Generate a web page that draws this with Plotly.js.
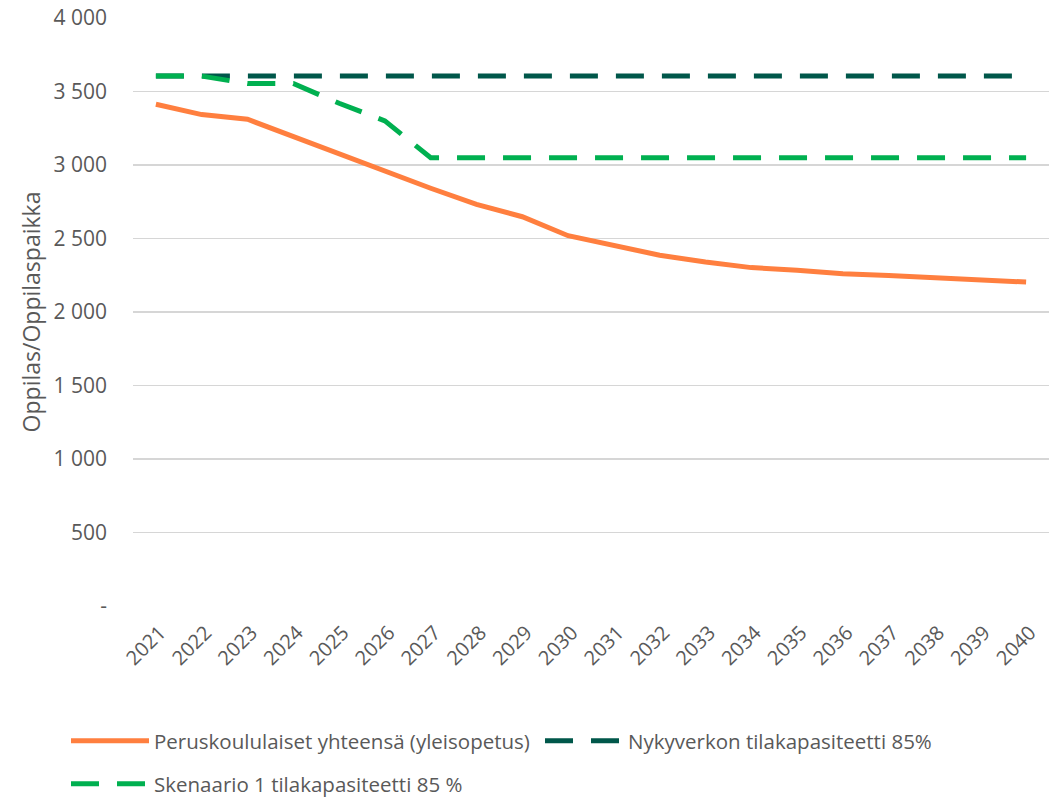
<!DOCTYPE html>
<html>
<head>
<meta charset="utf-8">
<script src="https://cdn.plot.ly/plotly-3.0.1.min.js"></script>
<style>html,body{margin:0;padding:0;background:#fff;} #chart{width:1049px;height:798px;}</style>
</head>
<body>
<div id="chart"></div>
<script>
const years = ["2021","2022","2023","2024","2025","2026","2027","2028","2029","2030","2031","2032","2033","2034","2035","2036","2037","2038","2039","2040"];
const peruskoululaiset = [3413,3343,3311,3195,3070,2955,2842,2732,2648,2519,2454,2386,2340,2302,2284,2261,2248,2234,2220,2204];
const nykyverkko = [3605,3605,3605,3605,3605,3605,3605,3605,3605,3605,3605,3605,3605,3605,3605,3605,3605,3605,3605,3605];
const skenaario1 = [3605,3605,3554,3554,3420,3300,3050,3050,3050,3050,3050,3050,3050,3050,3050,3050,3050,3050,3050,3050];
const yTickVals = [0,500,1000,1500,2000,2500,3000,3500,4000];
const yTickText = ["-","500","1 000","1 500","2 000","2 500","3 000","3 500","4 000"];
const names = ["Peruskoululaiset yhteensä (yleisopetus)","Nykyverkon tilakapasiteetti 85%","Skenaario 1 tilakapasiteetti 85 %"];

const traces = [
  {x: years, y: peruskoululaiset, name: names[0], type: "scatter", mode: "lines",
   line: {color: "#FF7F3F", width: 5}, legend: "legend"},
  {x: years, y: nykyverkko, name: names[1], type: "scatter", mode: "lines",
   line: {color: "#00574A", width: 5, dash: "28px,18px"}, legend: "legend2"},
  {x: years, y: skenaario1, name: names[2], type: "scatter", mode: "lines",
   line: {color: "#00B050", width: 5, dash: "28px,18px"}, legend: "legend3"}
];

const fam = "Open Sans, Noto Sans, sans-serif";
const grey = "#595959";
const legendFont = {family: fam, size: 20.5, color: grey};

function leg(x, yPix) {
  return {
    orientation: "h", xref: "container", yref: "container",
    x: x / 1049, y: 1 - yPix / 798, xanchor: "left", yanchor: "middle",
    font: legendFont, itemwidth: 78, bgcolor: "rgba(0,0,0,0)"
  };
}

const layout = {
  width: 1049, height: 798,
  paper_bgcolor: "#ffffff", plot_bgcolor: "#ffffff",
  margin: {l: 133, r: 0, t: 18, b: 192},
  showlegend: true,
  xaxis: {
    type: "category", tickangle: -45, tickfont: {family: fam, size: 20, color: grey},
    showgrid: false, zeroline: false, showline: false, ticks: "",
    ticklabelstandoff: 10, ticklabelshift: 4,
    range: [-0.5, 19.5]
  },
  yaxis: {
    range: [0, 4000], tickvals: yTickVals, ticktext: yTickText,
    tickfont: {family: fam, size: 21, color: grey}, gridcolor: "#d6d6d6", gridwidth: 1.5,
    zeroline: false, showline: false, ticks: "", ticklabelstandoff: 25,
    title: {text: "Oppilas/Oppilaspaikka", font: {family: fam, size: 23, color: grey}, standoff: 6}
  },
  legend: leg(66, 741),
  legend2: leg(540, 741),
  legend3: leg(66, 784)
};

Plotly.newPlot("chart", traces, layout, {displayModeBar: false, staticPlot: true});
</script>
</body>
</html>
